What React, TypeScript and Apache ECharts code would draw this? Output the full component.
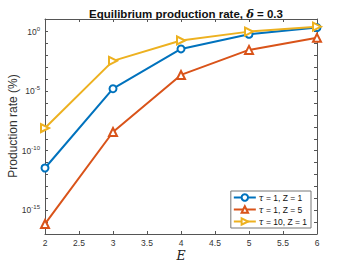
import React, { useEffect, useRef } from "react";
import * as echarts from "echarts";

const xValues = [2, 3, 4, 5, 6];
const seriesNames = ["{t|τ} = 1, Z = 1", "{t|τ} = 1, Z = 5", "{t|τ} = 10, Z = 1"];
const blueValues = [3.5e-12, 1.6e-5, 0.035, 0.6, 2.2];
const orangeValues = [7e-17, 3.7e-9, 2.3e-4, 0.029, 0.3];
const yellowValues = [8e-9, 3.5e-3, 0.18, 1.0, 2.6];
const yLabelExponents = [0, -5, -10, -15];

const colors = ["#0072BD", "#D95319", "#EDB120"];
const axisColor = "#555";
const textColor = "#333";

export default function App() {
  const ref = useRef<HTMLDivElement>(null);
  useEffect(() => {
    if (!ref.current) return;
    const chart = echarts.init(ref.current, null, { renderer: "svg" });
    const pairs = (vals: number[]) => xValues.map((x, i) => [x, vals[i]]);
    const yAxisBase = {
      type: "log",
      logBase: 10,
      min: 1e-17,
      max: 10 ** 1.06,
      interval: 1,
      axisLine: { show: true, lineStyle: { color: axisColor, width: 1 } },
      axisTick: { show: true, inside: true, length: 3, lineStyle: { color: axisColor } },
      splitLine: { show: false },
    };
    const xAxisBase = {
      type: "value",
      min: 2,
      max: 6,
      interval: 0.5,
      axisLine: { show: true, lineStyle: { color: axisColor, width: 1 } },
      axisTick: { show: true, inside: true, length: 3, lineStyle: { color: axisColor } },
      splitLine: { show: false },
    };
    const mk = (name: string, vals: number[], color: string, symbol: string, size: number, rotate: number, z: number) => ({
      name,
      type: "line",
      data: pairs(vals),
      symbol,
      symbolSize: size,
      symbolRotate: rotate,
      showAllSymbol: true,
      z,
      lineStyle: { color, width: 2 },
      itemStyle: { color, borderColor: color, borderWidth: 1.6 },
    });
    chart.setOption({
      animation: false,
      backgroundColor: "#fff",
      title: {
        text: "Equilibrium production rate, {d|δ} = 0.3",
        left: 181,
        top: 3,
        textAlign: "center",
        textStyle: {
          fontFamily: "Liberation Sans",
          fontSize: 11.5,
          fontWeight: "bold",
          color: "#111",
          rich: {
            d: { fontFamily: "DejaVu Serif", fontStyle: "italic", fontWeight: "bold", fontSize: 11.5, color: "#111" },
          },
        },
      },
      grid: { left: 45, right: 33, top: 19, bottom: 29 },
      xAxis: [
        {
          ...xAxisBase,
          position: "bottom",
          axisLabel: { show: true, fontSize: 8.5, color: textColor, margin: 4, fontFamily: "Liberation Sans" },
        },
        { ...xAxisBase, position: "top", axisLabel: { show: false } },
      ],
      yAxis: [
        {
          ...yAxisBase,
          position: "left",
          axisLabel: {
            show: true,
            margin: 5,
            color: textColor,
            fontFamily: "Liberation Sans",
            formatter: (v: number) => {
              const e = Math.round(Math.log10(v));
              return yLabelExponents.includes(e) ? `{b|10}{s|${e}}` : "";
            },
            rich: {
              b: { fontSize: 8.5, color: textColor, fontFamily: "Liberation Sans" },
              s: { fontSize: 6, color: textColor, fontFamily: "Liberation Sans", padding: [0, 0, 6, 0] },
            },
          },
        },
        { ...yAxisBase, position: "right", axisLabel: { show: false } },
      ],
      legend: {
        orient: "vertical",
        right: 39,
        bottom: 35,
        itemWidth: 22,
        itemHeight: 8,
        itemGap: 3,
        padding: [2, 4, 2, 2],
        backgroundColor: "#fff",
        borderColor: "#777",
        borderWidth: 1,
        borderRadius: 0,
        textStyle: {
          fontSize: 8.5,
          color: "#111",
          fontFamily: "Liberation Sans",
          padding: [0, 0, 0, -2],
          rich: { t: { fontFamily: "DejaVu Serif", fontStyle: "italic", fontSize: 8.5, color: "#111" } },
        },
        data: seriesNames,
      },
      series: [
        mk(seriesNames[0], blueValues, colors[0], "emptyCircle", 7, 0, 3),
        mk(seriesNames[1], orangeValues, colors[1], "emptyTriangle", 8, 0, 2),
        mk(seriesNames[2], yellowValues, colors[2], "emptyTriangle", 8, -90, 4),
      ],
      graphic: [
        {
          type: "text",
          x: 13,
          y: 126,
          rotation: Math.PI / 2,
          style: {
            text: "Production rate (%)",
            fontSize: 12,
            fontFamily: "Liberation Sans",
            fill: "#333",
            textAlign: "center",
            textVerticalAlign: "middle",
          },
        },
        {
          type: "text",
          x: 181,
          y: 255.5,
          style: {
            text: "E",
            fontSize: 12.5,
            fontFamily: "DejaVu Serif",
            fontStyle: "italic",
            fill: "#222",
            textAlign: "center",
            textVerticalAlign: "middle",
          },
        },
      ],
    });
    return () => chart.dispose();
  }, []);
  return <div ref={ref} style={{ width: 350, height: 263, position: "absolute", left: 0, top: 0 }} />;
}
